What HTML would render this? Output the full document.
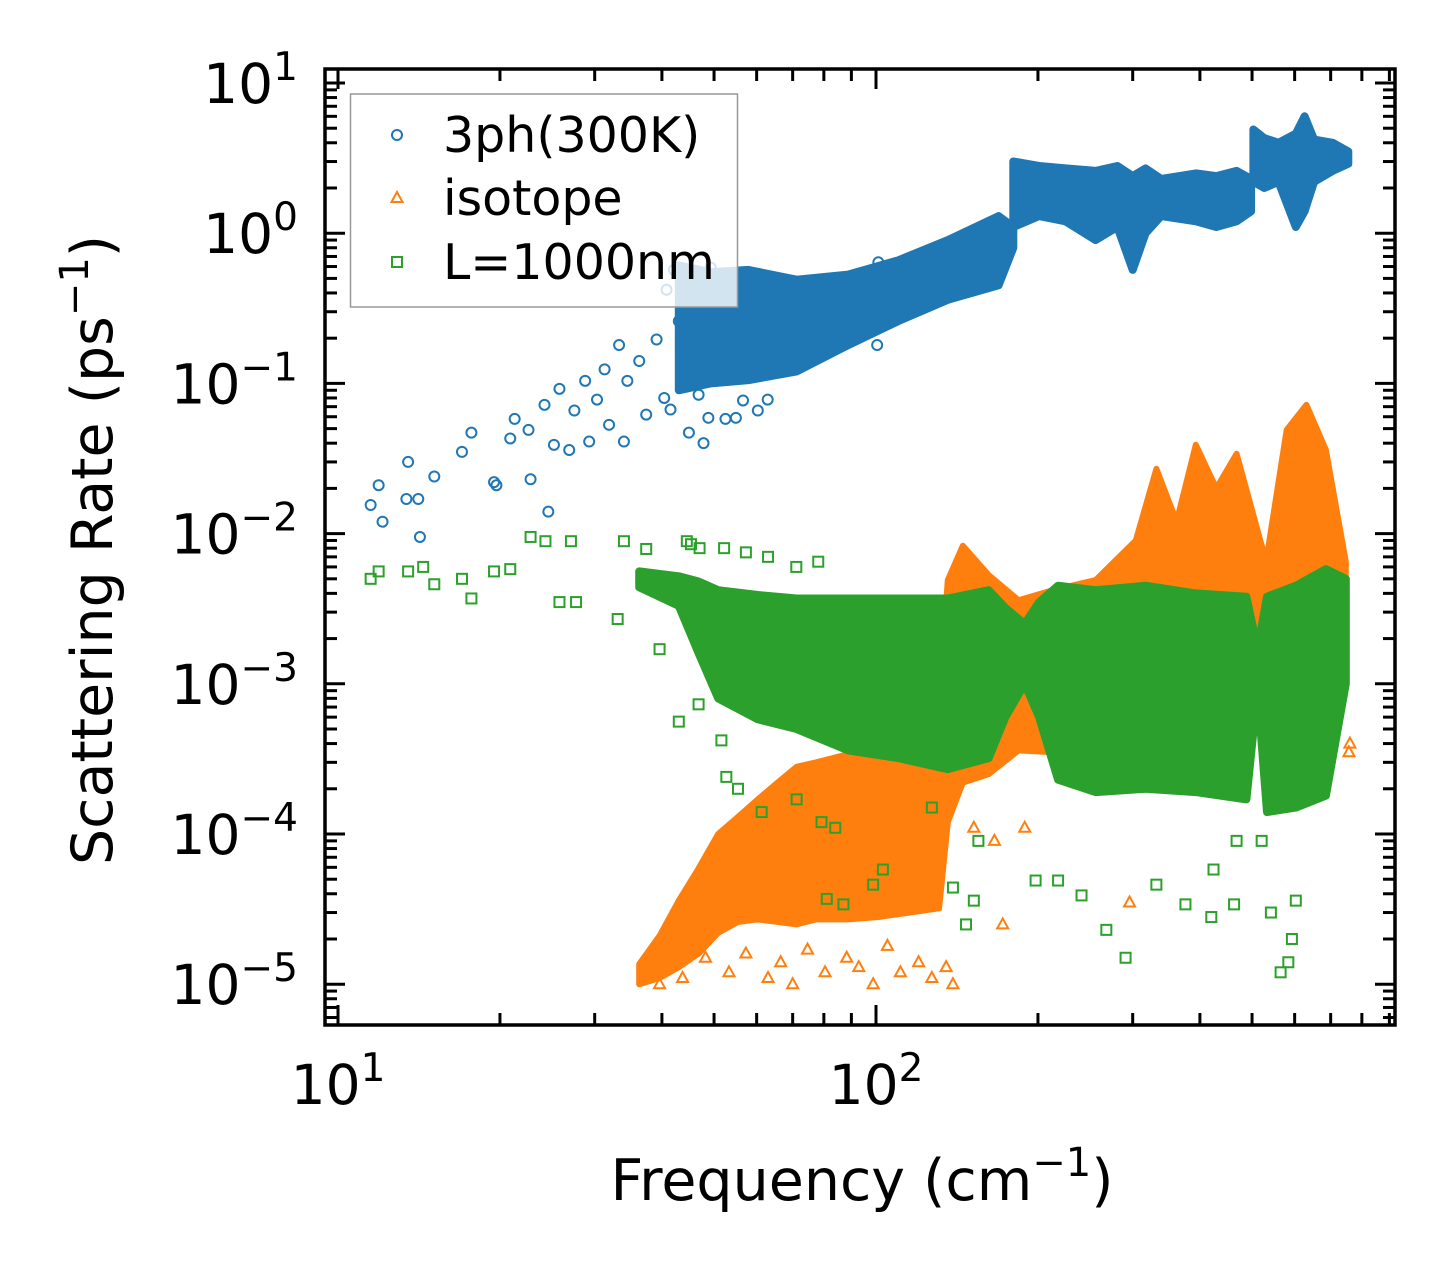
<!DOCTYPE html>
<html><head><meta charset="utf-8">
<style>
html,body{margin:0;padding:0;background:#fff;}
svg{display:block;font-family:"DejaVu Sans","Liberation Sans",sans-serif;}
</style></head>
<body>
<svg id="chart" width="1455" height="1275" viewBox="0 0 1455 1275">
<g id="bands"></g>
<g id="marks"></g>
<g id="axes"></g>
<g id="legend"></g>
</svg>
<script>
// ---- data ----
const xTickValues = [10, 100];
const xTickLabels = ["1", "2"];
const yTickValues = [10, 1, 0.1, 0.01, 0.001, 0.0001, 0.00001];
const yTickLabels = ["1", "0", "\u22121", "\u22122", "\u22123", "\u22124", "\u22125"];
const seriesNames = ["3ph(300K)", "isotope", "L=1000nm"];

// 3ph sparse points
const blueFreq = [11.5,11.9,12.1,13.4,13.5,14.1,14.2,15.1,17.0,17.7,19.5,19.7,20.9,21.3,22.8,22.6,24.6,24.2,25.2,25.8,26.9,27.5,28.8,29.3,30.3,31.3,31.9,33.3,34.0,34.5,36.3,37.4,39.1,40.4,41.5,43.0,44.9,47.8,46.8,48.8,52.5,54.9,56.6,60.3,62.9,40.8,42.1,49.3,56.6,101,100.5];
const blueRate = [0.0155,0.021,0.012,0.017,0.030,0.017,0.0095,0.024,0.035,0.047,0.022,0.021,0.043,0.058,0.023,0.049,0.014,0.072,0.039,0.092,0.036,0.066,0.104,0.041,0.078,0.124,0.053,0.18,0.041,0.104,0.141,0.062,0.196,0.08,0.067,0.26,0.047,0.040,0.084,0.059,0.058,0.059,0.077,0.066,0.078,0.42,0.57,0.59,0.53,0.64,0.18];
// 3ph dense band (segment, freq, high, low)
const blueBandSeg = [0,0,0,0,0,0,0,0,0, 1,1,1,1,1,1,1,1,1,1,1,1, 2,2,2,2,2,2,2,2];
const blueBandFreq = [43.0,49.3,57.9,71.2,88.8,110,136,169,180, 180,201,225,256,281,300,317,339,393,429,468,498, 503,527,560,603,626,652,706,755];
const blueBandHigh = [0.61,0.55,0.57,0.49,0.53,0.66,0.9,1.3,1.1, 3.0,2.8,2.7,2.6,2.8,2.4,2.7,2.3,2.5,2.4,2.6,2.3, 4.9,4.3,4.0,4.6,6.0,4.2,4.0,3.5];
const blueBandLow = [0.09,0.1,0.105,0.12,0.18,0.26,0.36,0.45,0.8, 1.1,1.3,1.2,0.9,1.1,0.57,1.0,1.3,1.2,1.1,1.2,1.4, 2.2,2.0,2.2,1.1,1.4,2.2,2.6,2.9];

// isotope dense band
const orangeBandFreq = [36.3,39.6,43.0,46.8,50.9,55.4,60.3,65.6,71.2,77.5,88.8,101,115.6,131,136,145,162,184,213,256,304,332,362,393,429,468,531,580,631,686,747];
const orangeBandHigh = [1.36e-5,2.1e-5,3.6e-5,5.9e-5,1.0e-4,1.3e-4,1.7e-4,2.2e-4,2.8e-4,3.0e-4,3.4e-4,4.5e-4,5.5e-4,7.7e-4,4.9e-3,8.3e-3,5.3e-3,3.6e-3,4.2e-3,4.9e-3,9e-3,0.027,0.012,0.039,0.02,0.034,6.5e-3,0.049,0.072,0.036,6.5e-3];
const orangeBandLow = [1e-5,1.1e-5,1.3e-5,1.6e-5,2.2e-5,2.6e-5,2.7e-5,2.6e-5,2.5e-5,2.7e-5,2.7e-5,2.8e-5,3e-5,3.2e-5,1.2e-4,2.2e-4,2.5e-4,3.6e-4,3.5e-4,3.3e-4,3.4e-4,4.5e-4,4.5e-4,5e-4,4.5e-4,4.2e-4,7e-4,6e-4,5e-4,8e-4,1e-3];
// isotope sparse points
const orangeFreq = [39.6,43.7,48.2,53.3,57.3,63.0,66.5,70,74.6,80.4,88.2,92.9,98.8,105,111,120,127,135,139,152,166,172,189,296,760,757];
const orangeRate = [1.0e-5,1.1e-5,1.5e-5,1.2e-5,1.6e-5,1.1e-5,1.4e-5,1.0e-5,1.7e-5,1.2e-5,1.5e-5,1.3e-5,1.0e-5,1.8e-5,1.2e-5,1.4e-5,1.1e-5,1.3e-5,1.0e-5,1.1e-4,9e-5,2.5e-5,1.1e-4,3.5e-5,4e-4,3.5e-4];

// L=1000nm dense band
const greenBandFreq = [36.3,43.0,46.8,50.9,60.3,71.2,88.8,110,136,162,174,189,201,218,256,317,393,488,512,533,603,686,747];
const greenBandHigh = [5.6e-3,5.2e-3,4.8e-3,4.2e-3,3.9e-3,3.7e-3,3.7e-3,3.7e-3,3.7e-3,4.2e-3,3.2e-3,2.5e-3,3.5e-3,4.5e-3,4.2e-3,4.5e-3,4.0e-3,3.8e-3,1.7e-3,3.8e-3,4.5e-3,5.8e-3,5.0e-3];
const greenBandLow = [4.4e-3,3.3e-3,1.6e-3,8e-4,5.8e-4,5e-4,3.6e-4,3.2e-4,2.7e-4,3.2e-4,6e-4,1.0e-3,6e-4,2.3e-4,1.9e-4,2.0e-4,1.9e-4,1.7e-4,9e-4,1.4e-4,1.5e-4,1.8e-4,1.0e-3];
// L=1000nm sparse points
const greenFreq = [11.5,11.9,13.5,14.4,15.1,17.0,17.7,19.5,20.9,22.8,24.3,25.8,27.1,27.7,33.1,34.0,37.4,39.6,43.0,44.5,46.8,51.6,52.7,55.4,61.3,71.2,81.0,87.0,98.8,103,127,139,147,152,155,198,218,241,268,291,332,376,424,420,463,468,542,565,584,593,603,521,45.3,47.0,52.2,57.3,63.0,71.1,78.1,79.2,84];
const greenRate = [5.0e-3,5.6e-3,5.6e-3,6e-3,4.6e-3,5e-3,3.7e-3,5.6e-3,5.8e-3,9.5e-3,8.9e-3,3.5e-3,8.9e-3,3.5e-3,2.7e-3,8.9e-3,7.9e-3,1.7e-3,5.6e-4,8.9e-3,7.3e-4,4.2e-4,2.4e-4,2.0e-4,1.4e-4,1.7e-4,3.7e-5,3.4e-5,4.6e-5,5.8e-5,1.5e-4,4.4e-5,2.5e-5,3.6e-5,9e-5,4.9e-5,4.9e-5,3.9e-5,2.3e-5,1.5e-5,4.6e-5,3.4e-5,5.8e-5,2.8e-5,3.4e-5,9e-5,3e-5,1.2e-5,1.4e-5,2e-5,3.6e-5,9e-5,8.5e-3,8e-3,8e-3,7.5e-3,7e-3,6e-3,6.5e-3,1.2e-4,1.1e-4];

// ---- axes functions ----
const PX0 = 338, PXD = 538, PY1 = 83, PYD = 150.2;
const L = 325, R = 1395, T = 69, B = 1025;
function xs(f){ return PX0 + PXD * (Math.log10(f) - 1); }
function ys(r){ return PY1 + PYD * (1 - Math.log10(r)); }

const NS = "http://www.w3.org/2000/svg";
function mk(tag, attrs, parent){
  const e = document.createElementNS(NS, tag);
  for (const k in attrs) e.setAttribute(k, attrs[k]);
  parent.appendChild(e);
  return e;
}
const C = ["#1f77b4", "#ff7f0e", "#2ca02c"];
const bands = document.getElementById("bands");
const marks = document.getElementById("marks");
const axes = document.getElementById("axes");
const legend = document.getElementById("legend");

function bandPath(fr, hi, lo){
  let top = [], bot = [];
  for (let i = 0; i < fr.length; i++){ top.push(xs(fr[i]).toFixed(1)+","+ys(hi[i]).toFixed(1)); bot.push(xs(fr[i]).toFixed(1)+","+ys(lo[i]).toFixed(1)); }
  return "M" + top.join(" L") + " L" + bot.reverse().join(" L") + " Z";
}
function marker(kind, x, y, color, parent){
  let e;
  if (kind === 0) e = mk("circle", {cx:x, cy:y, r:5, fill:"none", stroke:color, "stroke-width":2}, parent);
  else if (kind === 1) e = mk("polygon", {points:`${x},${y-6} ${x-5.5},${y+4} ${x+5.5},${y+4}`, fill:"none", stroke:color, "stroke-width":2}, parent);
  else e = mk("rect", {x:x-5, y:y-5, width:10, height:10, fill:"none", stroke:color, "stroke-width":2}, parent);
  return e;
}

// blue band segments
for (let s = 0; s < 3; s++){
  const fr = [], hi = [], lo = [];
  for (let i = 0; i < blueBandSeg.length; i++) if (blueBandSeg[i] === s){ fr.push(blueBandFreq[i]); hi.push(blueBandHigh[i]); lo.push(blueBandLow[i]); }
  const p = mk("path", {d:bandPath(fr, hi, lo), fill:C[0], stroke:C[0], "stroke-width":8, "stroke-linejoin":"round"}, bands);
  
  
}
for (let i = 0; i < blueFreq.length; i++){
  const m = marker(0, xs(blueFreq[i]), ys(blueRate[i]), C[0], marks);
  
  
}
{
  const p = mk("path", {d:bandPath(orangeBandFreq, orangeBandHigh, orangeBandLow), fill:C[1], stroke:C[1], "stroke-width":6, "stroke-linejoin":"round"}, marks);
  
  
}
for (let i = 0; i < orangeFreq.length; i++){
  const m = marker(1, xs(orangeFreq[i]), ys(orangeRate[i]), C[1], marks);
  
  
}
{
  const p = mk("path", {d:bandPath(greenBandFreq, greenBandHigh, greenBandLow), fill:C[2], stroke:C[2], "stroke-width":8, "stroke-linejoin":"round"}, marks);
  
  
}
for (let i = 0; i < greenFreq.length; i++){
  const m = marker(2, xs(greenFreq[i]), ys(greenRate[i]), C[2], marks);
  
  
}

// frame
{
  const f = mk("rect", {x:L, y:T, width:R-L, height:B-T, fill:"none", stroke:"#000", "stroke-width":3.5}, axes);
  
  
}
// x ticks
for (let d = 0; d <= 2; d++){
  for (let k = 1; k <= 9; k++){
    const v = Math.pow(10, d) * k;
    const x = xs(v);
    if (x < L || x > R) continue;
    const len = k === 1 ? 20 : 12;
    mk("line", {x1:x, y1:B, x2:x, y2:B-len, stroke:"#000", "stroke-width":3}, axes);
    mk("line", {x1:x, y1:T, x2:x, y2:T+len, stroke:"#000", "stroke-width":3}, axes);
  }
}
xTickValues.forEach((v, i) => {
  const t = mk("text", {x:xs(v), y:1104, "font-size":55, "text-anchor":"middle", fill:"#000"}, axes);
  const a = mk("tspan", {}, t); a.textContent = "10";
  const s = mk("tspan", {dy:-23, "font-size":39}, t);
  s.textContent = xTickLabels[i];
  
  
});
// y ticks
for (let d = -6; d <= 1; d++){
  for (let k = 1; k <= 9; k++){
    const v = Math.pow(10, d) * k;
    const y = ys(v);
    if (y < T || y > B) continue;
    const len = k === 1 ? 20 : 12;
    mk("line", {x1:L, y1:y, x2:L+len, y2:y, stroke:"#000", "stroke-width":3}, axes);
    mk("line", {x1:R, y1:y, x2:R-len, y2:y, stroke:"#000", "stroke-width":3}, axes);
  }
}
yTickValues.forEach((v, i) => {
  const t = mk("text", {x:298, y:ys(v)+20, "font-size":55, "text-anchor":"end", fill:"#000"}, axes);
  const a = mk("tspan", {}, t); a.textContent = "10";
  const s = mk("tspan", {dy:-23, "font-size":39}, t); s.textContent = yTickLabels[i];
  
  
});
// axis titles
{
  const t = mk("text", {x:862, y:1200, "font-size":57, "text-anchor":"middle", fill:"#000"}, axes);
  const a = mk("tspan", {}, t); a.textContent = "Frequency (cm";
  const s = mk("tspan", {dy:-24, "font-size":40}, t); s.textContent = "\u22121";
  const c = mk("tspan", {dy:24}, t); c.textContent = ")";
  
  
}
{
  const t = mk("text", {x:0, y:0, "font-size":57, "text-anchor":"middle", fill:"#000", transform:"translate(112,550) rotate(-90)"}, axes);
  const a = mk("tspan", {}, t); a.textContent = "Scattering Rate (ps";
  const s = mk("tspan", {dy:-24, "font-size":40}, t); s.textContent = "\u22121";
  const c = mk("tspan", {dy:24}, t); c.textContent = ")";
  
  
}
// legend
{
  const box = mk("rect", {x:350.5, y:94, width:387, height:213, fill:"#fff", "fill-opacity":0.8, stroke:"#999", "stroke-width":1.5}, legend);
  
  
  const ys3 = [135, 198, 262];
  seriesNames.forEach((n, i) => {
    const m = marker(i, 397, ys3[i], C[i], legend);
    
    
    const t = mk("text", {x:443, y:ys3[i]+17, "font-size":49, fill:"#000"}, legend);
    t.textContent = n;
    
    
  });
}
</script>
</body></html>
